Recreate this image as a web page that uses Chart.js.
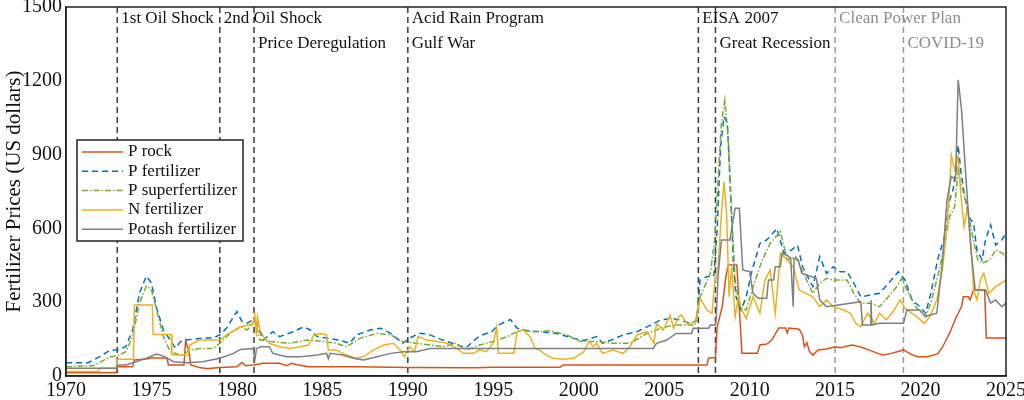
<!DOCTYPE html>
<html>
<head>
<meta charset="utf-8">
<script src="https://cdn.jsdelivr.net/npm/chart.js@4.4.1/dist/chart.umd.min.js"></script>
<style>
  html, body { margin: 0; padding: 0; background: #fff; }
  #wrap { width: 1024px; height: 400px; }
</style>
</head>
<body>
<div id="wrap"><canvas id="priceChart" width="1024" height="400"></canvas></div>
<script>
// series as [year, US dollars] pairs
const pRock = [[1970,13],[1972.95,13],[1973.0,38],[1973.9,38],[1974.0,65],[1974.8,70],[1975.0,73],[1975.9,73],[1976.0,45],[1976.9,45],[1977.0,143],[1977.2,100],[1977.3,45],[1977.8,35],[1978.3,30],[1979,35],[1980.0,38],[1980.3,55],[1980.5,42],[1981,45],[1981.5,52],[1982.5,52],[1982.9,42],[1983.2,52],[1983.6,45],[1984.2,38],[1987,38],[1990,35],[1994,34],[1995,36],[1998.9,36],[1999.1,45],[2007.5,45],[2007.6,73],[2008.0,75],[2008.1,200],[2008.4,282],[2008.6,400],[2008.75,451],[2009.25,451],[2009.55,92],[2010.45,92],[2010.6,126],[2011.0,130],[2011.3,146],[2011.7,195],[2012.1,195],[2012.2,175],[2012.3,195],[2012.9,190],[2013.1,165],[2013.2,119],[2013.35,135],[2013.5,100],[2013.7,85],[2014.0,106],[2014.5,110],[2015,119],[2015.3,115],[2016,126],[2016.5,118],[2017,105],[2017.5,92],[2017.8,85],[2018.3,92],[2019.0,106],[2019.4,90],[2019.8,78],[2020.4,78],[2021.0,90],[2021.3,119],[2021.7,174],[2022.1,241],[2022.4,282],[2022.5,322],[2022.8,322],[2022.9,309],[2023.1,350],[2023.75,350],[2023.85,154],[2025,154]];

const pFertilizer = [[1970,54],[1971.3,54],[1972,80],[1972.6,106],[1973,106],[1973.5,119],[1973.9,187],[1974.3,337],[1974.7,406],[1975.0,378],[1975.3,276],[1975.7,187],[1976.1,146],[1976.4,114],[1976.7,140],[1977.1,147],[1977.5,150],[1978,154],[1978.6,154],[1979,167],[1979.4,195],[1979.8,241],[1980,262],[1980.3,221],[1980.6,215],[1980.95,228],[1981.1,221],[1981.55,146],[1982.1,180],[1982.5,160],[1983.3,180],[1983.9,200],[1984.3,187],[1984.7,160],[1985.4,153],[1986,146],[1986.6,133],[1987,167],[1987.8,187],[1988.4,194],[1989,173],[1989.7,133],[1990.1,154],[1990.7,174],[1991.3,167],[1991.9,150],[1992.6,133],[1993.4,114],[1993.8,140],[1994.2,163],[1994.9,180],[1995.3,207],[1996,230],[1996.4,194],[1997,184],[1997.7,180],[1998.7,173],[1999.7,153],[2000.3,144],[2001.05,160],[2001.4,133],[2002,149],[2002.6,167],[2003.4,180],[2004.2,207],[2004.8,228],[2005.4,234],[2005.9,228],[2006.5,214],[2006.9,225],[2007.1,390],[2007.5,404],[2007.9,404],[2008.1,593],[2008.3,932],[2008.5,1054],[2008.7,1027],[2008.85,797],[2009.05,459],[2009.2,322],[2009.5,268],[2009.8,322],[2010.1,418],[2010.6,539],[2011,553],[2011.6,600],[2012,499],[2012.4,510],[2012.8,532],[2013.1,444],[2013.7,363],[2014.1,485],[2014.5,417],[2014.9,444],[2015.3,424],[2015.7,424],[2016.1,377],[2016.5,322],[2017.05,329],[2017.6,336],[2018.2,383],[2018.7,424],[2019.1,390],[2019.5,309],[2019.95,282],[2020.3,255],[2020.6,336],[2021,472],[2021.4,566],[2021.7,715],[2021.9,756],[2022.1,851],[2022.2,939],[2022.35,837],[2022.55,743],[2022.8,648],[2023.1,621],[2023.3,512],[2023.6,472],[2023.8,553],[2024.1,614],[2024.4,532],[2024.75,553],[2025,580]];

const pSuperfertilizer = [[1970,38],[1971.6,42],[1972.6,78],[1973,82],[1973.5,99],[1973.9,160],[1974.3,296],[1974.7,366],[1975,350],[1975.4,241],[1975.7,160],[1976.1,99],[1976.7,85],[1977.3,106],[1977.8,112],[1978.6,112],[1979,133],[1979.6,173],[1980.2,200],[1980.6,187],[1980.95,214],[1981.05,228],[1981.35,146],[1982,140],[1983.1,133],[1984.1,146],[1985.05,140],[1985.8,133],[1986.4,119],[1987.2,153],[1988.2,173],[1989,167],[1989.7,140],[1990.5,133],[1991.3,126],[1992.1,119],[1992.8,133],[1993.45,106],[1994.2,126],[1995,140],[1995.8,160],[1996.6,187],[1997.3,180],[1998.3,184],[1999.3,167],[2000.1,140],[2001.05,140],[2002,133],[2003,133],[2004,173],[2004.8,194],[2005.5,207],[2006.8,207],[2007.1,322],[2007.7,417],[2007.95,553],[2008.15,797],[2008.35,1027],[2008.55,1122],[2008.75,960],[2008.95,661],[2009.15,390],[2009.4,282],[2009.8,268],[2010.2,363],[2010.7,465],[2011.2,539],[2011.8,587],[2012.2,472],[2012.7,485],[2013.15,417],[2013.7,336],[2014.1,377],[2014.5,397],[2014.9,390],[2015.7,390],[2016.1,336],[2016.5,296],[2017.05,296],[2017.6,282],[2018.2,329],[2018.6,363],[2018.9,397],[2019.2,350],[2019.7,282],[2020.3,241],[2020.6,296],[2021,404],[2021.4,526],[2021.7,648],[2022,688],[2022.2,837],[2022.35,783],[2022.65,715],[2023.05,566],[2023.35,472],[2023.6,458],[2024.05,472],[2024.4,512],[2024.8,499],[2025,478]];

const nFertilizer = [[1970,18],[1971.9,18],[1972,31],[1972.95,31],[1973,68],[1973.95,68],[1974,289],[1975.05,289],[1975.1,169],[1976.15,169],[1976.2,85],[1977.15,85],[1977.25,126],[1977.8,146],[1979,146],[1979.4,167],[1980.2,200],[1980.95,211],[1981.05,248],[1981.15,160],[1981.2,241],[1981.35,187],[1981.55,160],[1981.9,133],[1982.5,119],[1983.1,112],[1983.7,119],[1984.2,126],[1984.5,167],[1984.9,173],[1985.25,167],[1985.35,106],[1985.8,106],[1986.4,85],[1987,72],[1987.4,78],[1988,106],[1988.6,126],[1989.15,133],[1989.55,106],[1989.8,78],[1990.1,119],[1990.4,99],[1990.6,160],[1991.1,146],[1991.7,140],[1992.3,133],[1992.85,112],[1993.25,92],[1993.85,92],[1994.2,106],[1994.6,99],[1995,133],[1995.2,200],[1995.3,92],[1996.2,92],[1996.4,180],[1996.75,187],[1997.15,160],[1997.45,112],[1997.7,106],[1998.1,85],[1998.5,72],[1999.1,68],[1999.7,72],[2000.3,99],[2000.6,140],[2000.85,119],[2001.05,133],[2001.4,92],[2002,106],[2002.6,92],[2003,119],[2003.4,167],[2004,180],[2004.4,133],[2004.55,214],[2004.95,187],[2005.35,248],[2005.55,194],[2005.85,241],[2006,248],[2006.4,207],[2006.9,228],[2007.1,316],[2007.5,268],[2007.8,255],[2007.95,377],[2008.15,444],[2008.35,661],[2008.5,790],[2008.65,661],[2008.8,322],[2008.95,444],[2009.15,241],[2009.35,322],[2009.55,268],[2009.8,234],[2010.2,322],[2010.6,255],[2010.9,390],[2011.2,431],[2011.5,255],[2011.8,499],[2012.2,472],[2012.55,444],[2012.9,350],[2013.3,336],[2013.7,322],[2014.1,282],[2014.5,309],[2014.9,282],[2015.5,268],[2015.9,255],[2016.2,214],[2016.5,200],[2016.9,255],[2017.3,214],[2017.6,255],[2018,228],[2018.4,262],[2018.8,309],[2019.1,275],[2019.5,255],[2019.9,234],[2020.2,214],[2020.55,241],[2020.95,309],[2021.3,444],[2021.6,648],[2021.8,899],[2022,837],[2022.2,892],[2022.35,743],[2022.55,607],[2022.75,688],[2022.95,526],[2023.1,350],[2023.3,309],[2023.5,390],[2023.7,417],[2024,336],[2024.4,363],[2024.7,377],[2025,390]];

const potashFertilizer = [[1970,31],[1972.95,31],[1973,45],[1973.5,45],[1974.1,58],[1974.7,72],[1975.3,89],[1975.7,81],[1976.3,58],[1977.1,54],[1978,58],[1979,72],[1979.8,92],[1980.2,108],[1980.95,112],[1981.05,65],[1981.15,112],[1981.4,119],[1981.9,119],[1982.1,92],[1982.9,78],[1983.7,78],[1984.7,85],[1985.25,92],[1985.35,70],[1985.45,92],[1986.2,85],[1986.8,72],[1987.4,65],[1988.2,78],[1989,92],[1989.75,99],[1990.5,99],[1991.3,112],[2004.35,112],[2004.55,133],[2005.15,146],[2005.7,173],[2006.6,173],[2006.7,194],[2007.6,194],[2007.7,207],[2008.0,207],[2008.05,241],[2008.15,404],[2008.35,553],[2008.85,553],[2009.15,682],[2009.4,682],[2009.6,431],[2010.0,424],[2010.2,336],[2010.5,316],[2011.0,316],[2011.1,390],[2011.4,390],[2011.5,444],[2011.8,444],[2011.9,499],[2012.2,490],[2012.4,480],[2012.55,282],[2012.6,478],[2012.85,472],[2013.05,417],[2013.9,397],[2014.1,309],[2014.5,282],[2016.5,302],[2016.6,207],[2017.05,207],[2017.1,309],[2017.15,207],[2017.6,214],[2019.0,214],[2019.2,268],[2019.95,268],[2020.3,241],[2020.55,248],[2020.95,255],[2021.25,444],[2021.55,715],[2021.8,811],[2022.05,797],[2022.2,1204],[2022.4,1082],[2022.65,811],[2022.95,512],[2023.2,350],[2023.8,350],[2024.1,296],[2024.4,309],[2024.75,282],[2025,296]];

const seriesNames = ["P rock", "P fertilizer", "P superfertilizer", "N fertilizer", "Potash fertilizer"];

// policy / market events marked with vertical lines
const eventYears = [1973, 1979, 1981, 1990, 1990, 2007, 2008, 2015, 2019];
const eventLabels = ["1st Oil Shock", "2nd Oil Shock", "Price Deregulation", "Acid Rain Program", "Gulf War", "EISA 2007", "Great Recession", "Clean Power Plan", "COVID-19"];

const serif = "'Liberation Serif', 'Times New Roman', serif";

const toXY = (pairs) => pairs.map(([x, y]) => ({ x: x, y: y }));

const styles = [
  { color: "#D95319", dash: [] },
  { color: "#0072BD", dash: [6, 4] },
  { color: "#77AC30", dash: [6, 2, 1.5, 2] },
  { color: "#EDB120", dash: [] },
  { color: "#7F7F7F", dash: [] },
];
const allSeries = [pRock, pFertilizer, pSuperfertilizer, nFertilizer, potashFertilizer];

const datasets = allSeries.map((s, i) => ({
  label: seriesNames[i],
  data: toXY(s),
  borderColor: styles[i].color,
  backgroundColor: styles[i].color,
  borderDash: styles[i].dash,
  borderWidth: 1.5,
  pointRadius: 0,
  tension: 0,
  fill: false,
  order: allSeries.length - i,
}));

// dashed event lines + their captions
const eventPlugin = {
  id: "events",
  beforeDatasetsDraw(chart) {
    const { ctx, chartArea, scales } = chart;
    ctx.save();
    ctx.lineWidth = 1.5;
    ctx.setLineDash([6, 4]);
    [...new Set(eventYears)].forEach((yr) => {
      const x = scales.x.getPixelForValue(yr);
      ctx.strokeStyle = yr >= 2015 ? "#9a9a9a" : "#3a3a3a";
      ctx.beginPath();
      ctx.moveTo(x, chartArea.top);
      ctx.lineTo(x, chartArea.bottom);
      ctx.stroke();
    });
    ctx.restore();
  },
  afterDraw(chart) {
    const { ctx, chartArea, scales } = chart;
    ctx.save();
    ctx.font = "17px " + serif;
    ctx.textBaseline = "middle";
    ctx.textAlign = "left";
    let lastTopYear = -100;
    eventYears.forEach((yr, i) => {
      const lower = yr - lastTopYear < 5;
      if (!lower) lastTopYear = yr;
      const x = scales.x.getPixelForValue(yr) + 4;
      const y = chartArea.top + (lower ? 37 : 12);
      ctx.fillStyle = yr >= 2015 ? "#8c8c8c" : "#111";
      ctx.fillText(eventLabels[i], x, y);
    });
    // box around the axes
    ctx.strokeStyle = "#222";
    ctx.lineWidth = 1.5;
    ctx.strokeRect(chartArea.left, chartArea.top, chartArea.right - chartArea.left, chartArea.bottom - chartArea.top);

    // legend box inside the axes
    const lx = chartArea.left + 11, ly = chartArea.top + 133;
    const lw = 166, lh = 101, rowH = 19.3;
    ctx.fillStyle = "#fff";
    ctx.fillRect(lx, ly, lw, lh);
    ctx.strokeStyle = "#222";
    ctx.lineWidth = 1.5;
    ctx.strokeRect(lx, ly, lw, lh);
    chart.data.datasets.forEach((ds, i) => {
      const y = ly + 12 + i * rowH;
      ctx.strokeStyle = ds.borderColor;
      ctx.lineWidth = 1.5;
      ctx.setLineDash(ds.borderDash);
      ctx.beginPath();
      ctx.moveTo(lx + 5, y);
      ctx.lineTo(lx + 46, y);
      ctx.stroke();
      ctx.setLineDash([]);
      ctx.fillStyle = "#111";
      ctx.font = "17px " + serif;
      ctx.fillText(ds.label, lx + 51, y);
    });
    ctx.restore();
  },
};

new Chart(document.getElementById("priceChart").getContext("2d"), {
  type: "line",
  data: { datasets: datasets },
  options: {
    responsive: false,
    animation: false,
    devicePixelRatio: 1,
    layout: { padding: { left: 0, right: 18, top: 7, bottom: 0 } },
    plugins: {
      legend: { display: false },
      tooltip: { enabled: false },
    },
    scales: {
      x: {
        type: "linear",
        min: 1970,
        max: 2025,
        grid: { display: false, drawTicks: false },
        border: { display: true, color: "#222", width: 1.5 },
        ticks: {
          stepSize: 5,
          padding: 3,
          color: "#111",
          font: { family: serif, size: 20 },
          callback: (v) => String(v),
        },
        afterFit: (s) => { s.height = 24; s.paddingLeft = 0; s.paddingRight = 0; },
      },
      y: {
        type: "linear",
        min: 0,
        max: 1500,
        grid: { display: false, drawTicks: false },
        border: { display: true, color: "#222", width: 1.5 },
        ticks: {
          stepSize: 300,
          padding: 4,
          color: "#111",
          font: { family: serif, size: 20 },
          callback: (v) => String(v),
        },
        title: {
          display: true,
          text: "Fertilizer Prices (US dollars)",
          color: "#111",
          font: { family: serif, size: 21 },
          padding: { top: 2, bottom: 0 },
        },
        afterFit: (s) => { s.width = 66; s.paddingTop = 0; s.paddingBottom = 0; },
      },
    },
  },
  plugins: [eventPlugin],
});
</script>
</body>
</html>
